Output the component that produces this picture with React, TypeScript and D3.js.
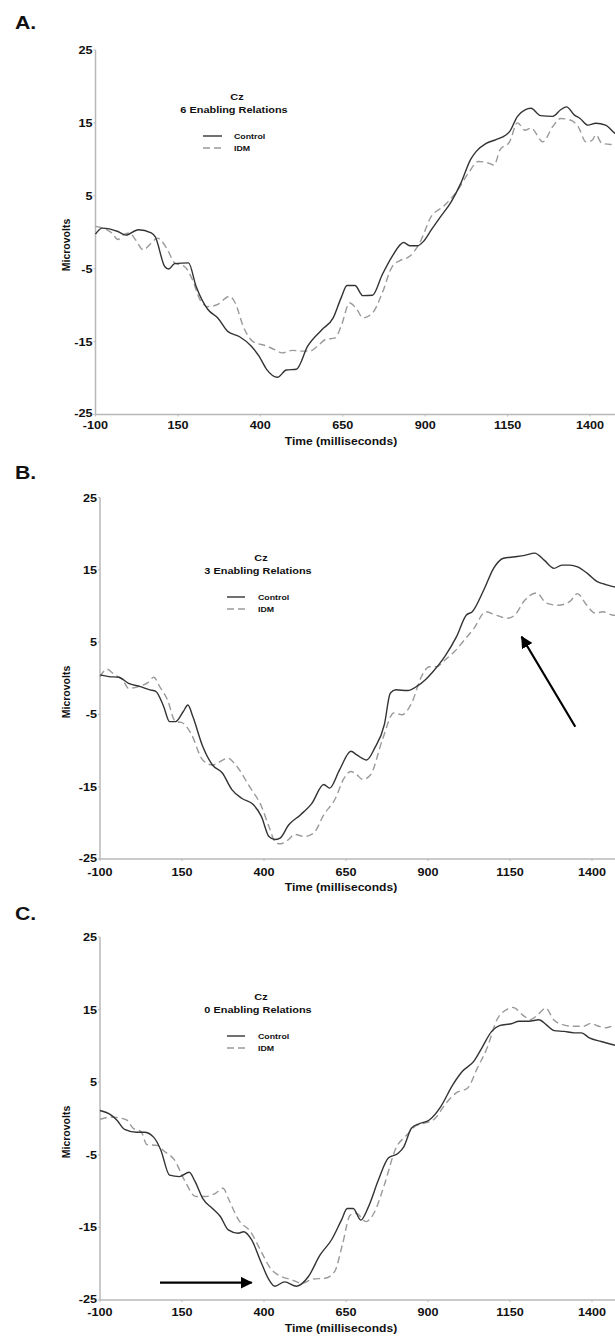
import React from "react";
import * as d3 from "d3";

// ---------- DATA (time in ms, amplitude in microvolts) ----------
const xTicks = [-100, 150, 400, 650, 900, 1150, 1400];
const yTicks = [-25, -15, -5, 5, 15, 25];
const seriesNames = ["Control", "IDM"];
const panelLetters = ["A.", "B.", "C."];
const panelTitles = ["6 Enabling Relations", "3 Enabling Relations", "0 Enabling Relations"];
const electrode = "Cz";

const aControl: [number, number][] = [
  [-100, -0.25], [-80, 0.57], [-32, 0.1], [-8, -0.4], [30, 0.35], [69, -0.1], [81, -0.6],
  [110, -4.7], [122, -5.05], [140, -4.3], [182, -4.2], [205, -7.4], [241, -10.6], [271, -11.75],
  [301, -13.6], [336, -14.3], [372, -15.6], [396, -17], [419, -18.8], [452, -19.9], [479, -18.9],
  [509, -18.8], [544, -15.6], [586, -13.4], [621, -11.75], [645, -9], [663, -7.3], [687, -7.3],
  [711, -8.7], [740, -8.65], [770, -5.8], [800, -3.3], [835, -1.4], [853, -1.85], [877, -1.85],
  [895, -1.25], [919, 0.35], [948, 2.2], [978, 4.1], [1008, 6.7], [1038, 10.0], [1055, 11.1],
  [1085, 12.2], [1115, 12.7], [1145, 13.35], [1156, 13.8], [1180, 15.9], [1203, 16.8], [1221, 17.0],
  [1250, 16.0], [1287, 15.9], [1311, 16.8], [1329, 17.2], [1352, 16.1], [1370, 15.6], [1394, 14.7],
  [1418, 14.95], [1447, 14.7], [1475, 13.6], [1500, 13.0],
];
const aIDM: [number, number][] = [
  [-100, 0.8], [-77, 0.57], [-50, -0.1], [-32, -1.0], [-14, -0.3], [3, -0.1], [21, -1.0], [45, -2.4],
  [69, -1.5], [87, -0.8], [116, -2.2], [140, -4.2], [170, -4.7], [194, -6.5], [217, -9.25],
  [241, -10.2], [271, -9.9], [306, -8.8], [324, -9.7], [348, -12.9], [378, -15], [419, -15.6],
  [443, -16.1], [467, -16.55], [497, -16.2], [526, -16.3], [550, -16.3], [574, -15.6], [598, -14.7],
  [627, -14.5], [645, -12.9], [671, -9.7], [693, -10.6], [711, -11.75], [740, -11.1], [770, -8.3],
  [800, -4.7], [823, -3.9], [853, -3.3], [883, -1.5], [919, 2.2], [954, 3.5], [996, 5.6], [1031, 8.1],
  [1061, 9.7], [1091, 9.5], [1109, 9.2], [1127, 11.3], [1156, 12.4], [1180, 15.0], [1203, 14.0],
  [1221, 14.3], [1257, 12.4], [1287, 14.5], [1311, 15.6], [1340, 15.4], [1364, 14.5], [1388, 12.4],
  [1406, 12.6], [1418, 13.35], [1436, 12.2], [1475, 12.0], [1500, 11.9],
];

const bControl: [number, number][] = [
  [-100, 0.46], [-73, 0.23], [-43, 0.14], [-13, -0.7], [23, -1.15], [52, -1.6], [70, -1.8],
  [94, -3.9], [112, -6.0], [130, -6.0], [154, -4.6], [168, -3.7], [183, -5.3], [213, -9.4],
  [243, -12], [273, -13.1], [302, -15.4], [332, -16.6], [368, -17.5], [392, -19.1], [415, -21.9],
  [433, -22.3], [449, -22.1], [475, -20.3], [511, -18.9], [546, -17.3], [582, -14.7], [600, -15.2],
  [630, -12.7], [665, -10.1], [683, -10.6], [713, -11.3], [737, -9.7], [767, -6.4], [785, -2.07],
  [802, -1.6], [838, -1.7], [868, -1.06], [892, -0.2], [915, 0.9], [951, 3.0], [987, 5.75],
  [1017, 8.75], [1035, 9.2], [1070, 12.2], [1100, 15.2], [1130, 16.6], [1165, 16.8], [1195, 17.0],
  [1225, 17.3], [1255, 16.3], [1284, 15.2], [1308, 15.65], [1332, 15.65], [1356, 15.4], [1386, 14.5],
  [1416, 13.35], [1439, 13.0], [1461, 12.7], [1500, 12.4],
];
const bIDM: [number, number][] = [
  [-100, 0.2], [-79, 1.25], [-55, 0.46], [-31, -0.2], [-13, -1.4], [17, -1.15], [46, -0.6], [64, 0.14],
  [82, -1.15], [106, -3.0], [130, -6.0], [148, -6.1], [177, -7.6], [213, -11.3], [243, -12.0],
  [261, -11.65], [290, -11.05], [314, -12.0], [356, -15], [392, -17.7], [415, -20.5], [437, -22.8],
  [451, -22.9], [475, -22.3], [493, -21.6], [523, -21.9], [552, -21.4], [582, -18.9], [618, -16.6],
  [642, -14.0], [665, -12.9], [683, -13.35], [701, -14.0], [725, -13.35], [761, -8.5], [796, -4.8],
  [820, -5.05], [850, -3.45], [880, 0.23], [904, 1.6], [927, 1.6], [951, 2.5], [981, 3.7], [1011, 5.3],
  [1040, 6.9], [1076, 9.2], [1106, 8.75], [1142, 8.3], [1165, 8.75], [1195, 10.8], [1231, 11.8],
  [1261, 10.4], [1296, 10.1], [1332, 10.6], [1356, 11.7], [1380, 10.35], [1410, 9.0], [1433, 9.2],
  [1461, 8.75], [1500, 8.6],
];

const cControl: [number, number][] = [
  [-100, 1.1], [-67, 0.5], [-49, -0.2], [-25, -1.5], [11, -1.9], [35, -1.9], [64, -2.6], [85, -4.3],
  [112, -7.8], [142, -8.0], [172, -7.4], [190, -8.7], [213, -11], [243, -12.4], [267, -13.5],
  [291, -15.35], [321, -15.8], [338, -15.6], [362, -16.7], [392, -19.9], [415, -22.2], [433, -23.1],
  [463, -22.5], [499, -23.1], [535, -21.8], [571, -18.8], [606, -16.7], [636, -14], [654, -12.4],
  [672, -12.4], [695, -14], [719, -12.1], [749, -8.45], [779, -5.45], [809, -4.8], [826, -3.9],
  [850, -1.3], [874, -0.7], [904, -0.2], [939, 1.65], [975, 4.6], [1005, 6.5], [1040, 7.9],
  [1064, 9.7], [1094, 12.0], [1118, 12.8], [1154, 13.05], [1178, 13.4], [1208, 13.4], [1238, 13.6],
  [1261, 12.9], [1285, 12.1], [1315, 12.0], [1345, 11.8], [1368, 11.8], [1392, 11.1], [1428, 10.6],
  [1461, 10.2], [1500, 9.8],
];
const cIDM: [number, number][] = [
  [-100, -0.1], [-67, 0.2], [-37, 0.05], [-19, -0.2], [1, -1.35], [25, -1.8], [43, -3.6], [73, -3.7],
  [97, -4.55], [127, -5.7], [157, -8.45], [192, -10.75], [222, -10.75], [252, -10.3], [275, -9.6],
  [293, -11.2], [323, -14], [359, -15.6], [389, -18.1], [419, -20.6], [455, -21.8], [484, -22.2],
  [514, -22.7], [550, -22.1], [586, -22.0], [615, -21.1], [639, -17.4], [663, -13.3], [681, -13.05],
  [711, -14.2], [735, -13.05], [770, -8.7], [800, -4.3], [836, -2.25], [860, -1.1], [889, -0.65],
  [919, -0.1], [955, 2.1], [985, 3.5], [1021, 4.2], [1050, 6.9], [1080, 9.7], [1110, 13.6],
  [1140, 15.0], [1158, 15.3], [1193, 14.1], [1211, 13.6], [1235, 14.3], [1259, 15.2], [1283, 13.6],
  [1313, 12.9], [1343, 12.7], [1373, 12.7], [1396, 13.1], [1420, 12.7], [1444, 12.5], [1461, 12.7],
  [1500, 12.6],
];

const controlSeries = [aControl, bControl, cControl];
const idmSeries = [aIDM, bIDM, cIDM];

// ---------- LAYOUT ----------
const W = 615;
const H = 1339;
const FONT = "'Liberation Sans', Arial, Helvetica, sans-serif";
const SX = 1.15; // horizontal stretch of the reference's lettering

const layouts = [
  { x0: 95.5, x1400: 590, yTop: 50, yBot: 414.5, letterY: 29, titleCx: 234, czY: 100, titleY: 113,
    legX0: 203, legX1: 222, legY: 136, legTx: 234, mvY: 245, tickY: 429, timeY: 445 },
  { x0: 100, x1400: 592, yTop: 497.5, yBot: 859, letterY: 479, titleCx: 258, czY: 561, titleY: 574,
    legX0: 227, legX1: 245, legY: 597, legTx: 258, mvY: 692, tickY: 875.5, timeY: 891 },
  { x0: 100, x1400: 592, yTop: 937, yBot: 1300, letterY: 920, titleCx: 258, czY: 1000, titleY: 1013,
    legX0: 227, legX1: 245, legY: 1036, legTx: 258, mvY: 1132, tickY: 1315.5, timeY: 1332 },
];

const CONTROL_COLOR = "#333";
const IDM_COLOR = "#9a9a9a";
const AXIS_COLOR = "#b8b8b8";
const DASH = "7,4";

function SText(props: {
  x: number; y: number; size: number; anchor?: string; children: React.ReactNode;
  rotate?: number; sx?: number; weight?: string | number;
}) {
  const { x, y, size, anchor = "start", children, rotate = 0, sx = SX, weight = "bold" } = props;
  return (
    <text
      transform={`translate(${x},${y}) scale(${sx},1)${rotate ? ` rotate(${rotate})` : ""}`}
      textAnchor={anchor}
      fontFamily={FONT}
      fontWeight={weight}
      fontSize={size}
      fill="#111"
    >
      {children}
    </text>
  );
}

function Panel({ idx }: { idx: number }) {
  const L = layouts[idx];
  const x = d3.scaleLinear().domain([-100, 1400]).range([L.x0, L.x1400]);
  const y = d3.scaleLinear().domain([-25, 25]).range([L.yBot, L.yTop]);
  const line = d3
    .line<[number, number]>()
    .x((d) => x(d[0]))
    .y((d) => y(d[1]))
    .curve(d3.curveMonotoneX);

  return (
    <g>
      <SText x={15} y={L.letterY} size={18.5}>{panelLetters[idx]}</SText>

      {/* axes */}
      <line x1={L.x0} x2={x(1500)} y1={L.yBot} y2={L.yBot} stroke={AXIS_COLOR} strokeWidth={1.5} />
      <line x1={L.x0} x2={L.x0} y1={L.yTop} y2={L.yBot} stroke={AXIS_COLOR} strokeWidth={1.5} />
      {yTicks.map((t) => (
        <g key={"y" + t}>
          <line x1={L.x0 - 2} x2={L.x0} y1={y(t)} y2={y(t)} stroke={AXIS_COLOR} strokeWidth={1} />
          <SText x={L.x0 - 3} y={y(t) + (t === -25 ? 2.5 : 4)} size={11} anchor="end">{t}</SText>
        </g>
      ))}
      {xTicks.map((t) => (
        <g key={"x" + t}>
          <line x1={x(t)} x2={x(t)} y1={L.yBot} y2={L.yBot + 2} stroke={AXIS_COLOR} strokeWidth={1} />
          <SText x={x(t)} y={L.tickY} size={11} anchor="middle">{t}</SText>
        </g>
      ))}
      <SText x={341} y={L.timeY} size={10.5} anchor="middle">Time (milliseconds)</SText>
      <SText x={70} y={L.mvY} size={10.5} anchor="middle" rotate={-90} sx={1}>Microvolts</SText>

      {/* series */}
      <path d={line(idmSeries[idx]) || ""} fill="none" stroke={IDM_COLOR} strokeWidth={1.4} strokeDasharray={DASH} />
      <path d={line(controlSeries[idx]) || ""} fill="none" stroke={CONTROL_COLOR} strokeWidth={1.4} />

      {/* title + legend */}
      <SText x={L.titleCx + 3} y={L.czY} size={9.5} anchor="middle">{electrode}</SText>
      <SText x={L.titleCx} y={L.titleY} size={9.5} anchor="middle">{panelTitles[idx]}</SText>
      <line x1={L.legX0} x2={L.legX1} y1={L.legY} y2={L.legY} stroke={CONTROL_COLOR} strokeWidth={1.4} />
      <line x1={L.legX0} x2={L.legX1} y1={L.legY + 12} y2={L.legY + 12} stroke={IDM_COLOR} strokeWidth={1.4} strokeDasharray={DASH} />
      <SText x={L.legTx} y={L.legY + 3} size={8} sx={1.1}>{seriesNames[0]}</SText>
      <SText x={L.legTx} y={L.legY + 15} size={8} sx={1.1}>{seriesNames[1]}</SText>
    </g>
  );
}

export default function App() {
  return (
    <svg
      width={W}
      height={H}
      style={{ position: "absolute", left: 0, top: 0, background: "#fff" }}
    >
      <defs>
        <marker id="ah" viewBox="0 0 12 12" refX="11" refY="6" markerWidth="12" markerHeight="12"
          markerUnits="userSpaceOnUse" orient="auto">
          <path d="M0,0 L12,6 L0,12 Z" fill="#000" />
        </marker>
      </defs>
      <rect x={0} y={0} width={W} height={H} fill="#fff" />
      {[0, 1, 2].map((i) => (
        <Panel key={i} idx={i} />
      ))}
      {/* annotation arrows */}
      <line x1={575.3} y1={726.7} x2={521.6} y2={636.7} stroke="#000" strokeWidth={2.2} markerEnd="url(#ah)" />
      <line x1={160} y1={1282.7} x2={251.7} y2={1282.7} stroke="#000" strokeWidth={2.2} markerEnd="url(#ah)" />
    </svg>
  );
}
